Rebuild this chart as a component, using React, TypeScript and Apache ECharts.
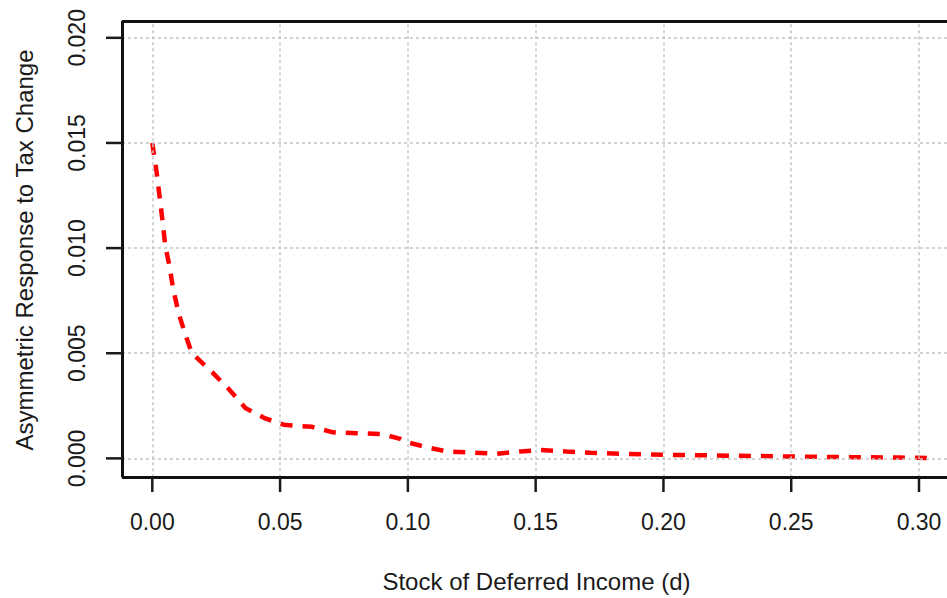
import React, { useEffect, useRef } from "react";
import * as echarts from "echarts";

const xValues = [
  0, 0.0016, 0.0029, 0.0038, 0.0051, 0.0068, 0.0081, 0.0103, 0.0129, 0.0155,
  0.0234, 0.0299, 0.0364, 0.0442, 0.0514, 0.0625, 0.0708, 0.08, 0.0899, 0.097,
  0.0996, 0.1075, 0.1153, 0.1257, 0.1348, 0.144, 0.1518, 0.162, 0.1713, 0.183,
  0.201, 0.2195, 0.238, 0.256, 0.274, 0.2925, 0.307,
];
const yValues = [
  0.015, 0.0137, 0.0124, 0.0115, 0.0101, 0.0091, 0.0081, 0.0069, 0.0059, 0.005,
  0.0041, 0.0033, 0.0024, 0.0019, 0.0016, 0.0015, 0.00124, 0.0012, 0.00116, 0.00093,
  0.00077, 0.00053, 0.00033, 0.00027, 0.00022, 0.00033, 0.0004, 0.00033, 0.00027, 0.00022,
  0.00017, 0.00014, 0.00011, 0.00008, 0.00006, 0.00004, 0.00001,
];
const xTicks = [0, 0.05, 0.1, 0.15, 0.2, 0.25, 0.3];
const yTicks = [0, 0.005, 0.01, 0.015, 0.02];

// axis extents (data units)
const X_MIN = -0.02046;
const X_MAX = 0.3133;
const Y_MIN = -0.001741;
const Y_MAX = 0.0208;
// plot box and tick-end positions (data units)
const X_BOX = -0.01186;
const Y_BOX = -0.000894;
const X_TICK_END = -0.01812;
const Y_TICK_END = -0.0016;

const xTitle = "Stock of Deferred Income (d)";
const yTitle = "Asymmetric Response to Tax Change";

const FONT = '"Liberation Sans", Arial, Helvetica, sans-serif';
const TEXT = "#1a1a1a";

export default function App() {
  const ref = useRef<HTMLDivElement>(null);
  useEffect(() => {
    if (!ref.current) return;
    const chart = echarts.init(ref.current, null, { renderer: "svg" });

    const dotted = { color: "#c4c4c4", width: 1.5, type: [3, 3] as number[] };
    const solid = { color: "#111111", width: 3, type: "solid" };

    const seg = (x1: number, y1: number, x2: number, y2: number, style: any) => [
      { coord: [x1, y1], lineStyle: style },
      { coord: [x2, y2] },
    ];

    const guideLines: any[] = [
      ...yTicks.map((v) => seg(X_BOX, v, X_MAX, v, dotted)),
      ...xTicks.map((v) => seg(v, Y_BOX, v, Y_MAX, dotted)),
    ];
    const boxLines: any[] = [
      seg(X_BOX, Y_BOX, X_BOX, Y_MAX, solid),
      seg(X_BOX, Y_BOX, X_MAX, Y_BOX, solid),
      seg(X_BOX, Y_MAX, X_MAX, Y_MAX, solid),
    ];

    const tickData: number[][] = [
      ...yTicks.map((v) => [X_TICK_END, v, X_BOX, v]),
      ...xTicks.map((v) => [v, Y_TICK_END, v, Y_BOX]),
    ];

    chart.setOption({
      animation: false,
      backgroundColor: "#ffffff",
      textStyle: { fontFamily: FONT },
      grid: {
        left: 100,
        right: 7,
        top: 21,
        bottom: 98,
        show: false,
        containLabel: false,
      },
      xAxis: {
        type: "value",
        min: X_MIN,
        max: X_MAX,
        axisLine: { show: false, onZero: false },
        axisTick: { show: false },
        axisLabel: {
          customValues: xTicks,
          margin: 15,
          fontSize: 23,
          color: TEXT,
          fontFamily: FONT,
          formatter: (v: number) => v.toFixed(2),
        },
        splitLine: { show: false },
        name: xTitle,
        nameLocation: "middle",
        nameGap: 74,
        nameTextStyle: { fontSize: 24, color: TEXT, fontFamily: FONT, padding: [0, 0, 0, 20] },
      },
      yAxis: {
        type: "value",
        min: Y_MIN,
        max: Y_MAX,
        axisLine: { show: false, onZero: false },
        axisTick: { show: false },
        axisLabel: {
          customValues: yTicks,
          rotate: 90,
          margin: 12,
          fontSize: 23,
          color: TEXT,
          fontFamily: FONT,
          formatter: (v: number) => v.toFixed(3),
        },
        splitLine: { show: false },
        name: yTitle,
        nameLocation: "middle",
        nameGap: 64,
        nameTextStyle: { fontSize: 24, color: TEXT, fontFamily: FONT, padding: [0, 0, 0, 16] },
      },
      series: [
        {
          type: "line",
          data: [[X_MAX, Y_MAX]],
          showSymbol: false,
          lineStyle: { opacity: 0 },
          silent: true,
          clip: false,
          z: 1,
          markLine: {
            silent: true,
            symbol: ["none", "none"],
            label: { show: false },
            data: guideLines,
          },
        },
        {
          type: "line",
          data: xValues.map((x, i) => [x, yValues[i]]),
          showSymbol: false,
          smooth: false,
          lineStyle: { color: "#ff0000", width: 4.5, type: [12, 10] },
          silent: true,
          clip: false,
          z: 3,
          markLine: {
            silent: true,
            symbol: ["none", "none"],
            label: { show: false },
            data: boxLines,
          },
        },
        {
          type: "custom",
          data: tickData,
          dimensions: ["x1", "y1", "x2", "y2"],
          encode: { x: [0, 2], y: [1, 3] },
          clip: false,
          silent: true,
          z: 5,
          renderItem: (_params: any, api: any) => {
            const p1 = api.coord([api.value(0), api.value(1)]);
            const p2 = api.coord([api.value(2), api.value(3)]);
            return {
              type: "line",
              shape: { x1: p1[0], y1: p1[1], x2: p2[0], y2: p2[1] },
              style: { stroke: "#1a1a1a", lineWidth: 2.5 },
            };
          },
        },
      ],
    });
    return () => chart.dispose();
  }, []);
  return (
    <div
      style={{
        position: "fixed",
        left: 0,
        top: 0,
        width: 947,
        height: 598,
        overflow: "hidden",
        background: "#fff",
      }}
    >
      <div ref={ref} style={{ width: 960, height: 598 }} />
    </div>
  );
}
